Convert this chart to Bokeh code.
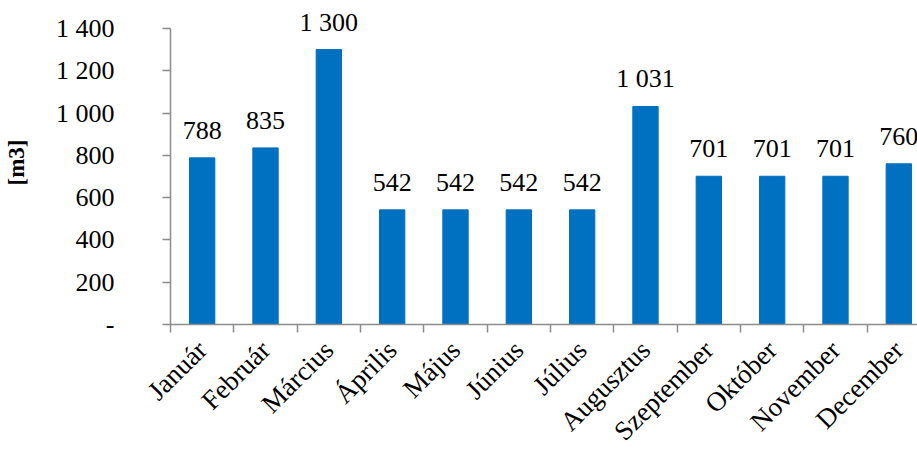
from bokeh.plotting import figure
from bokeh.models import ColumnDataSource, Range1d, FixedTicker, LabelSet
from bokeh.embed import file_html
from bokeh.resources import INLINE
from bokeh.core.properties import value

months = ["Január", "Február", "Március", "Április", "Május", "Június",
          "Július", "Augusztus", "Szeptember", "Október", "November", "December"]
values = [788, 835, 1300, 542, 542, 542, 542, 1031, 701, 701, 701, 760]
y_ticks = [0, 200, 400, 600, 800, 1000, 1200, 1400]

def fmt(v):
    if v == 0:
        return "-"
    return f"{v:,}".replace(",", " ")

FONT = "Liberation Serif"
FS = "26px"
AXIS_COLOR = "#8c8c8c"

xs = [i + 0.5 for i in range(len(months))]
src = ColumnDataSource(dict(x=xs, top=values, lab=[fmt(v) for v in values]))

p = figure(width=917, height=461, output_backend="svg", toolbar_location=None,
           x_range=Range1d(0, 11.795), y_range=Range1d(0, 1532))
p.min_border_left = 168
p.min_border_right = 0
p.min_border_top = 0
p.min_border_bottom = 137
p.outline_line_color = None
p.grid.visible = False
p.background_fill_color = "white"
p.border_fill_color = "white"

p.vbar(x="x", top="top", width=0.4, source=src, color="#0070C0")

labels = LabelSet(x="x", y="top", text="lab", source=src, text_align="center",
                  text_baseline="alphabetic", y_offset=19,
                  text_font=value(FONT), text_font_size=FS, text_color="black")
p.add_layout(labels)

# x axis
xa = p.xaxis[0]
xa.ticker = FixedTicker(ticks=xs, minor_ticks=list(range(len(months) + 1)))
xa.major_label_overrides = {x: m for x, m in zip(xs, months)}
xa.major_tick_line_color = None
xa.minor_tick_in = 0
xa.minor_tick_out = 8
xa.minor_tick_line_color = AXIS_COLOR
xa.minor_tick_line_width = 1.5
xa.axis_line_color = AXIS_COLOR
xa.axis_line_width = 1.5
xa.major_label_orientation = 0.785398
xa.major_label_text_font = FONT
xa.major_label_text_font_size = "27px"
xa.major_label_text_color = "black"
xa.major_label_standoff = 13

# y axis
ya = p.yaxis[0]
ya.ticker = FixedTicker(ticks=y_ticks, minor_ticks=[])
ya.bounds = (0, 1400)
ya.major_label_overrides = {t: fmt(t) for t in y_ticks}
ya.major_tick_in = 0
ya.major_tick_out = 8
ya.major_tick_line_color = AXIS_COLOR
ya.major_tick_line_width = 1.5
ya.minor_tick_line_color = None
ya.axis_line_color = AXIS_COLOR
ya.axis_line_width = 1.5
ya.major_label_text_font = FONT
ya.major_label_text_font_size = FS
ya.major_label_text_color = "black"
ya.major_label_standoff = 48
ya.axis_label = "[m3]"
ya.axis_label_text_font = FONT
ya.axis_label_text_font_size = "23px"
ya.axis_label_text_font_style = "bold"
ya.axis_label_text_color = "black"
ya.axis_label_standoff = 24

open("out.html", "w").write(file_html(p, INLINE))
